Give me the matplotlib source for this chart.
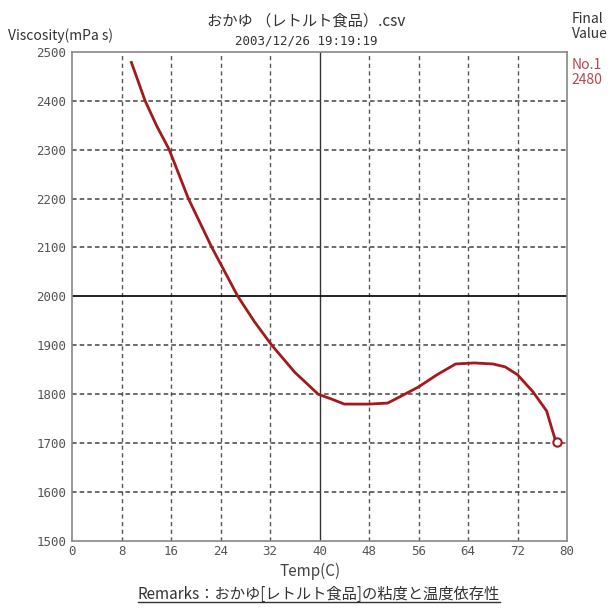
import matplotlib
matplotlib.use("Agg")
import matplotlib.pyplot as plt
from matplotlib.lines import Line2D

plt.rcParams['font.family'] = ['Noto Sans CJK JP', 'DejaVu Sans']

# data
temp = [9.6, 11.8, 13.7, 15.7, 18.8, 22.6, 26.8, 29.5, 32.3, 36.0, 39.8, 42.0,
        44.0, 48.0, 51.0, 53.0, 56.0, 59.0, 62.0, 65.0, 68.0, 70.0, 72.0,
        74.5, 76.7, 78.0, 78.3]
visc = [2478, 2400, 2348, 2300, 2200, 2100, 2000, 1948, 1900, 1845, 1800, 1790,
        1780, 1780, 1782, 1795, 1815, 1840, 1862, 1864, 1862, 1856, 1840,
        1805, 1766, 1711, 1702]
xticks = list(range(0, 81, 8))
yticks = list(range(1500, 2501, 100))

title = "おかゆ （レトルト食品）.csv"
stamp = "2003/12/26 19:19:19"
remarks = "Remarks：おかゆ[レトルト食品]の粘度と温度依存性"

fig = plt.figure(figsize=(6.13, 6.08), dpi=100)
ax = fig.add_axes([0.1175, 0.110, 0.8075, 0.805])
ax.set_xlim(0, 80)
ax.set_ylim(1500, 2500)
ax.set_xticks(xticks)
ax.set_yticks(yticks)
ax.tick_params(length=0, labelsize=9, labelcolor="#555")
ax.tick_params(axis="x", pad=3)
ax.tick_params(axis="y", pad=4)
for lab in ax.get_xticklabels() + ax.get_yticklabels():
    lab.set_family("DejaVu Sans Mono")

# grid: dashed, with solid centre lines
for x in xticks[1:-1]:
    if x == 40:
        ax.axvline(x, color="#333", lw=1.0)
    else:
        ax.axvline(x, color="#555", lw=1.0, ls=(0, (3, 2.5)))
for y in yticks[1:-1]:
    if y == 2000:
        ax.axhline(y, color="#111", lw=1.3)
    else:
        ax.axhline(y, color="#444", lw=1.1, ls=(0, (3, 2)))
for s in ax.spines.values():
    s.set_color("#888")
    s.set_linewidth(1.2)

ax.plot(temp, visc, color="#a3191c", lw=2.0, solid_joinstyle="round")
ax.plot(temp[-1], visc[-1], marker="o", ms=6, mfc="white", mec="#a3191c", mew=1.5)

fig.text(0.013, 0.935, "Viscosity(mPa s)", fontsize=10, color="#333")
fig.text(0.50, 0.958, title, fontsize=11, color="#333", ha="center")
fig.text(0.50, 0.927, stamp, fontsize=9, color="#333", ha="center", family="DejaVu Sans Mono")
fig.text(0.933, 0.938, "Final\nValue", fontsize=10, color="#333", linespacing=1.1)
fig.text(0.933, 0.862, "No.1\n2480", fontsize=10, color="#b5474f", linespacing=1.1)
fig.text(0.505, 0.053, "Temp(C)", fontsize=11, color="#444", ha="center")
rt = fig.text(0.52, 0.015, remarks, fontsize=11, color="#333", ha="center")

# underline the remarks line
fig.canvas.draw()
bb = rt.get_window_extent().transformed(fig.transFigure.inverted())
fig.add_artist(Line2D([bb.x0, bb.x1], [bb.y0 + 0.002, bb.y0 + 0.002],
                      transform=fig.transFigure, color="#333", lw=1.0))

fig.savefig("out.png", dpi=100)
